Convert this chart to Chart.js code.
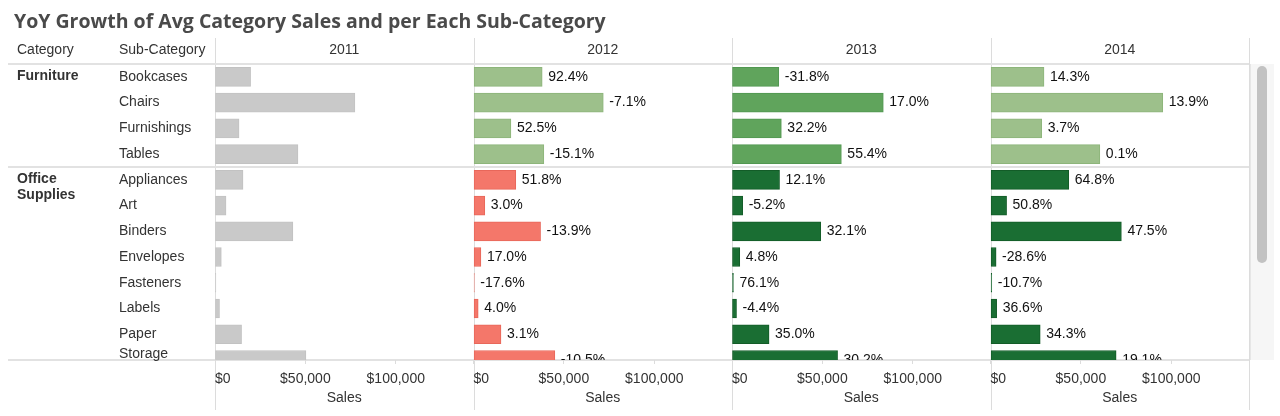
<!DOCTYPE html>
<html>
<head>
<meta charset="utf-8">
<title>YoY Growth of Avg Category Sales</title>
<script src="https://cdn.jsdelivr.net/npm/chart.js@4.4.0/dist/chart.umd.min.js"></script>
<style>
  html, body { margin: 0; padding: 0; background: #fff; }
  #wrap { position: relative; width: 1280px; height: 416px; overflow: hidden; }
  #chart { position: absolute; left: 0; top: 0; }
  #title {
    position: absolute; left: 14px; top: 7px;
    font: bold 19.5px "Open Sans", sans-serif; color: #4a4a4a; white-space: nowrap;
  }
  #track {
    position: absolute; left: 1250px; top: 64px; width: 23px; height: 296px;
    background: #f6f6f6; border-left: 1px solid #e6e6e6;
  }
  #thumb {
    position: absolute; left: 6px; top: 2px; width: 10px; height: 197px;
    background: #c2c2c2; border-radius: 5px;
  }
</style>
</head>
<body>
<div id="wrap">
  <canvas id="chart" width="1280" height="416"></canvas>
  <div id="title">YoY Growth of Avg Category Sales and per Each Sub-Category</div>
  <div id="track"><div id="thumb"></div></div>
</div>
<script>
// data
const years = ['2011', '2012', '2013', '2014'];
const categories = ['Furniture', 'Office Supplies'];
const subCategories = ['Bookcases', 'Chairs', 'Furnishings', 'Tables', 'Appliances', 'Art',
  'Binders', 'Envelopes', 'Fasteners', 'Labels', 'Paper', 'Storage'];
const subCategoryGroup = [0, 0, 0, 0, 1, 1, 1, 1, 1, 1, 1, 1];

const sales2011 = [19700, 77400, 13300, 45900, 15500, 6100, 43100, 3500, 500, 2500, 14700, 50300];
const sales2012 = [38000, 71800, 20700, 38900, 23400, 6250, 37100, 4100, 450, 2600, 15200, 45000];
const sales2013 = [25900, 83700, 27300, 60500, 26300, 5900, 49100, 4300, 800, 2500, 20500, 58400];
const sales2014 = [29600, 95300, 28300, 60500, 43300, 8900, 72400, 3100, 710, 3400, 27500, 69500];

const growth2012 = [92.4, -7.1, 52.5, -15.1, 51.8, 3.0, -13.9, 17.0, -17.6, 4.0, 3.1, -10.5];
const growth2013 = [-31.8, 17.0, 32.2, 55.4, 12.1, -5.2, 32.1, 4.8, 76.1, -4.4, 35.0, 30.2];
const growth2014 = [14.3, 13.9, 3.7, 0.1, 64.8, 50.8, 47.5, -28.6, -10.7, 36.6, 34.3, 19.1];

const salesTicks = [0, 50000, 100000];
const salesMax = 143000;

// colour per year, per category
const barColors = [
  ['#c9c9c9', '#c9c9c9'],
  ['#9dc08b', '#f4776a'],
  ['#60a45c', '#1a6e33'],
  ['#9dc08b', '#1a6e33']
];
const barBorders = [
  ['#c2c2c2', '#c2c2c2'],
  ['#8db57a', '#e8675a'],
  ['#519750', '#135c28'],
  ['#8db57a', '#135c28']
];

const allSales = [sales2011, sales2012, sales2013, sales2014];
const allGrowth = [null, growth2012, growth2013, growth2014];

const FONT = '"Liberation Sans", Arial, sans-serif';
const FS = 14;
const LINE = '#dcdcdc';

const datasets = years.map((yr, i) => ({
  label: yr,
  xAxisID: 'x' + i,
  data: allSales[i].map((v, r) => ({ x: v, y: r })),
  backgroundColor: subCategoryGroup.map(g => barColors[i][g]),
  borderColor: subCategoryGroup.map(g => barBorders[i][g]),
  borderWidth: 1,
  borderSkipped: false,
  barThickness: 19,
  grouped: false,
  clip: 0
}));

const scales = {
  y: {
    type: 'linear',
    reverse: true,
    offset: false,
    grid: { offset: false },
    min: -0.5,
    max: subCategories.length - 1,
    display: false
  }
};
years.forEach((yr, i) => {
  scales['x' + i] = {
    type: 'linear',
    position: 'bottom',
    stack: 'years',
    stackWeight: 1,
    min: 0,
    max: salesMax,
    afterBuildTicks: (scale) => {
      scale.ticks = salesTicks.concat([salesMax]).map(v => ({ value: v }));
    },
    afterFit: (scale) => { scale.height = 50; },
    ticks: {
      autoSkip: false,
      maxRotation: 0,
      align: 'inner',
      padding: 7,
      color: '#333',
      font: { family: FONT, size: FS },
      callback: (v) => v === salesMax ? '' : '$' + v.toLocaleString('en-US')
    },
    grid: {
      drawOnChartArea: false,
      tickLength: 4,
      color: (ctx) => (ctx.tick && ctx.tick.value === salesMax) ? 'rgba(0,0,0,0)' : LINE
    },
    border: { display: false },
    title: {
      display: true,
      text: 'Sales',
      color: '#333',
      font: { family: FONT, size: FS },
      padding: { top: 0, bottom: 3 }
    }
  };
});

// headers, row labels and pane lines
const tablePlugin = {
  id: 'table',
  beforeDraw(chart) {
    const { ctx, chartArea } = chart;
    const yScale = chart.scales.y;
    const xs = years.map((yr, i) => chart.scales['x' + i]);
    ctx.save();
    ctx.strokeStyle = LINE;
    ctx.lineWidth = 1;
    // vertical pane lines
    const edges = xs.map(s => s.left).concat([chartArea.right]);
    edges.forEach(x => {
      ctx.beginPath();
      ctx.moveTo(Math.round(x) + 0.5, 38);
      ctx.lineTo(Math.round(x) + 0.5, 410);
      ctx.stroke();
    });
    // horizontal lines
    ctx.lineWidth = 2;
    ctx.strokeStyle = '#e2e2e2';
    const firstOffice = subCategoryGroup.indexOf(1);
    [chartArea.top, yScale.getPixelForValue(firstOffice - 0.5), chartArea.bottom].forEach(y => {
      ctx.beginPath();
      ctx.moveTo(8, Math.round(y));
      ctx.lineTo(chartArea.right, Math.round(y));
      ctx.stroke();
    });

    // header row
    ctx.fillStyle = '#333';
    ctx.font = FS + 'px ' + FONT;
    ctx.textBaseline = 'middle';
    ctx.textAlign = 'left';
    ctx.fillText('Category', 17, 50);
    ctx.fillText('Sub-Category', 119, 50);
    ctx.textAlign = 'center';
    xs.forEach((s, i) => ctx.fillText(years[i], (s.left + s.right) / 2, 50));

    // sub-category labels
    ctx.textAlign = 'left';
    subCategories.forEach((name, r) => {
      const y = Math.min(yScale.getPixelForValue(r), chartArea.bottom - 6);
      ctx.fillText(name, 119, y);
    });

    // category labels, wrapped into the first column
    ctx.font = 'bold ' + FS + 'px ' + FONT;
    categories.forEach((cat, c) => {
      const r = subCategoryGroup.indexOf(c);
      const y = yScale.getPixelForValue(r) - 1;
      const lines = ctx.measureText(cat).width > 90 ? cat.split(' ') : [cat];
      lines.forEach((ln, k) => ctx.fillText(ln, 17, y + k * 16));
    });
    ctx.restore();
  },
  afterDatasetsDraw(chart) {
    const { ctx, chartArea } = chart;
    ctx.save();
    ctx.beginPath();
    ctx.rect(chartArea.left, chartArea.top, chartArea.right - chartArea.left, chartArea.bottom - chartArea.top);
    ctx.clip();
    ctx.fillStyle = '#111';
    ctx.font = FS + 'px ' + FONT;
    ctx.textBaseline = 'middle';
    ctx.textAlign = 'left';
    chart.data.datasets.forEach((ds, i) => {
      const growth = allGrowth[i];
      if (!growth) return;
      chart.getDatasetMeta(i).data.forEach((bar, r) => {
        ctx.fillText(growth[r].toFixed(1) + '%', bar.x + 6, bar.y);
      });
    });
    ctx.restore();
  }
};

new Chart(document.getElementById('chart'), {
  type: 'bar',
  data: { datasets: datasets },
  options: {
    indexAxis: 'y',
    responsive: false,
    animation: false,
    layout: { padding: { left: 215, right: 31, top: 64, bottom: 6 } },
    scales: scales,
    plugins: {
      legend: { display: false },
      tooltip: { enabled: false }
    }
  },
  plugins: [tablePlugin]
});
</script>
</body>
</html>
